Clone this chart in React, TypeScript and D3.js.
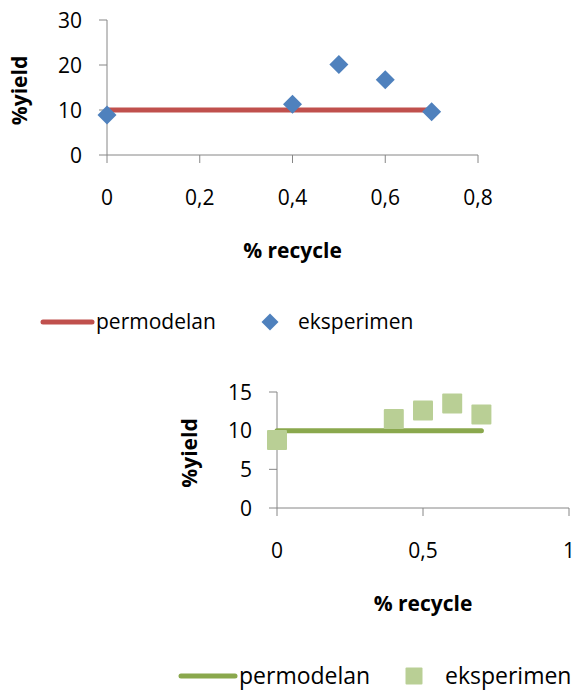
import React, { useEffect, useRef } from 'react';
import * as d3 from 'd3';

// shared x values (% recycle)
const recycle = [0, 0.4, 0.5, 0.6, 0.7];
const modelX = [0, 0.7];

// chart 1
const exp1 = [8.9, 11.3, 20.1, 16.7, 9.6];
const model1 = [10, 10];
const yTicks1 = [0, 10, 20, 30];
const xTicks1 = [0, 0.2, 0.4, 0.6, 0.8];

// chart 2
const exp2 = [8.8, 11.5, 12.6, 13.5, 12.1];
const model2 = [10, 10];
const yTicks2 = [0, 5, 10, 15];
const xTicks2 = [0, 0.5, 1];

const legendLabels = ['permodelan', 'eksperimen'];

const FONT = "'Open Sans', 'Noto Sans', sans-serif";
const AXIS = '#868686';

interface ChartCfg {
  left: number;
  right: number;
  top: number;
  bottom: number;
  xMax: number;
  yMax: number;
  xTicks: number[];
  yTicks: number[];
  exp: number[];
  model: number[];
  lineColor: string;
  markerColor: string;
  marker: 'diamond' | 'square';
  legend: { lineX0: number; lineX1: number; y: number; markerX: number; text2X: number; size: number };
}

const charts: ChartCfg[] = [
  {
    left: 107, right: 478, top: 20, bottom: 155, xMax: 0.8, yMax: 30,
    xTicks: xTicks1, yTicks: yTicks1, exp: exp1, model: model1,
    lineColor: '#C0504D', markerColor: '#4F81BD', marker: 'diamond',
    legend: { lineX0: 43, lineX1: 92, y: 322, markerX: 270, text2X: 298, size: 21 },
  },
  {
    left: 277, right: 569, top: 392, bottom: 508, xMax: 1, yMax: 15,
    xTicks: xTicks2, yTicks: yTicks2, exp: exp2, model: model2,
    lineColor: '#8AA84D', markerColor: '#B9CF95', marker: 'square',
    legend: { lineX0: 181, lineX1: 235, y: 676, markerX: 414, text2X: 445, size: 23 },
  },
];

const fmt = (v: number) => String(v).replace('.', ',');

const App: React.FC = () => {
  const ref = useRef<SVGSVGElement>(null);

  useEffect(() => {
    const svg = d3.select(ref.current);
    svg.selectAll('*').remove();

    charts.forEach((c) => {
      const x = d3.scaleLinear().domain([0, c.xMax]).range([c.left, c.right]);
      const y = d3.scaleLinear().domain([0, c.yMax]).range([c.bottom, c.top]);
      const g = svg.append('g').attr('font-family', FONT);

      // axes
      g.append('line')
        .attr('x1', c.left).attr('x2', c.left)
        .attr('y1', c.top).attr('y2', c.bottom)
        .attr('stroke', AXIS);
      g.append('line')
        .attr('x1', c.left).attr('x2', c.right)
        .attr('y1', c.bottom).attr('y2', c.bottom)
        .attr('stroke', AXIS);

      g.selectAll(null).data(c.yTicks).join('line')
        .attr('x1', c.left - 8).attr('x2', c.left)
        .attr('y1', (d) => y(d)).attr('y2', (d) => y(d))
        .attr('stroke', AXIS);
      g.selectAll(null).data(c.yTicks).join('text')
        .attr('x', c.left - 25).attr('y', (d) => y(d) + 7.5)
        .attr('text-anchor', 'end').attr('font-size', 21).attr('fill', '#000')
        .text((d) => fmt(d));

      g.selectAll(null).data(c.xTicks).join('line')
        .attr('x1', (d) => x(d)).attr('x2', (d) => x(d))
        .attr('y1', c.bottom).attr('y2', c.bottom + 8)
        .attr('stroke', AXIS);
      g.selectAll(null).data(c.xTicks).join('text')
        .attr('x', (d) => x(d)).attr('y', c.bottom + 50)
        .attr('text-anchor', 'middle').attr('font-size', 21).attr('fill', '#000')
        .text((d) => fmt(d));

      // axis titles
      g.append('text')
        .attr('transform', `translate(${c.left - 80},${(c.top + c.bottom) / 2 + 3}) rotate(-90)`)
        .attr('text-anchor', 'middle').attr('font-size', 21).attr('font-weight', 'bold')
        .text('%yield');
      g.append('text')
        .attr('x', (c.left + c.right) / 2).attr('y', c.bottom + 103)
        .attr('text-anchor', 'middle').attr('font-size', 21).attr('font-weight', 'bold')
        .text('% recycle');

      // model line
      const line = d3.line<number>().x((_d, i) => x(modelX[i])).y((d) => y(d));
      g.append('path')
        .attr('d', line(c.model))
        .attr('fill', 'none').attr('stroke', c.lineColor)
        .attr('stroke-width', 5).attr('stroke-linecap', 'round');

      // experiment markers
      const drawMarker = (sel: d3.Selection<SVGGElement, unknown, null, undefined>, cx: number, cy: number, size: number) => {
        if (c.marker === 'diamond') {
          const s = size / 2;
          sel.append('path')
            .attr('d', `M${cx},${cy - s}L${cx + s},${cy}L${cx},${cy + s}L${cx - s},${cy}Z`)
            .attr('fill', c.markerColor);
        } else {
          sel.append('rect')
            .attr('x', cx - size / 2).attr('y', cy - size / 2)
            .attr('width', size).attr('height', size).attr('rx', 1)
            .attr('fill', c.markerColor);
        }
      };
      c.exp.forEach((v, i) => drawMarker(g, x(recycle[i]), y(v), c.marker === 'diamond' ? 19 : 20));

      // legend
      const L = c.legend;
      g.append('line')
        .attr('x1', L.lineX0).attr('x2', L.lineX1)
        .attr('y1', L.y).attr('y2', L.y)
        .attr('stroke', c.lineColor).attr('stroke-width', 5).attr('stroke-linecap', 'round');
      g.append('text')
        .attr('x', L.lineX1 + 4).attr('y', L.y + L.size / 3)
        .attr('font-size', L.size).text(legendLabels[0]);
      drawMarker(g, L.markerX, L.y, 17);
      g.append('text')
        .attr('x', L.text2X).attr('y', L.y + L.size / 3)
        .attr('font-size', L.size).text(legendLabels[1]);
    });
  }, []);

  return (
    <svg
      ref={ref}
      width={574}
      height={690}
      style={{ position: 'absolute', left: 0, top: 0, background: '#fff' }}
    />
  );
};

export default App;
